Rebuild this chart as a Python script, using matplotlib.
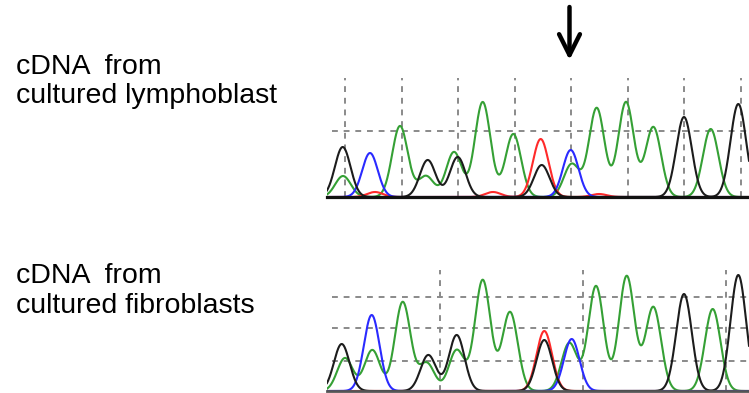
import numpy as np
import matplotlib
matplotlib.use("Agg")
import matplotlib.pyplot as plt
from matplotlib.patches import ArrowStyle, FancyArrowPatch

# ---------------- data (peak positions in scan units, heights) ----------------
labels_top = ["cDNA  from", "cultured lymphoblast"]
labels_bot = ["cDNA  from", "cultured fibroblasts"]

# Panel 1: cultured lymphoblast
p1_black_pos = [15.7, 100.7, 130.7, 214.7, 357.0, 411.3]
p1_black_h   = [50, 37, 40, 32, 80, 93]
p1_green_pos = [16.0, 73.0, 99.0, 127.0, 155.7, 186.3, 244.7, 269.7, 299.0, 326.3, 383.7]
p1_green_h   = [21, 71, 21, 45, 95, 63, 33, 89, 95, 70, 68]
p1_blue_pos  = [43.0, 243.7]
p1_blue_h    = [44, 47]
p1_red_pos   = [48.0, 166.0, 213.7, 272.0]
p1_red_h     = [5, 5, 58, 3]

# Panel 2: cultured fibroblasts
p2_black_pos = [14.7, 101.3, 129.7, 217.3, 357.0, 411.3]
p2_black_h   = [47, 36, 56, 51, 97, 116]
p2_green_pos = [18.0, 45.3, 75.7, 99.7, 129.7, 155.7, 183.0, 242.3, 269.0, 299.7, 326.3, 385.7]
p2_green_h   = [33, 41, 89, 28, 41, 111, 79, 48, 105, 115, 84, 82]
p2_blue_pos  = [44.7, 244.7]
p2_blue_h    = [76, 52]
p2_red_pos   = [217.3]
p2_red_h     = [60]

# grid positions
p1_vgrid = [18.0, 74.5, 131.0, 187.6, 244.1, 300.7, 357.2, 413.7]
p1_hgrid = [66]
p2_vgrid = [113.0, 256.3, 399.0]
p2_hgrid = [30, 63, 94]

SIGMA = 7.8
COLORS = {"black": "#1c1c1c", "green": "#35a035", "blue": "#2a2aff", "red": "#ff2a2a"}

W, H = 749, 393
fig = plt.figure(figsize=(W / 100, H / 100), dpi=100)
fig.patch.set_facecolor("white")

def trace(x, pos, hts):
    y = np.zeros_like(x)
    for p, h in zip(pos, hts):
        y += h * np.exp(-(x - p) ** 2 / (2 * SIGMA ** 2))
    return y

def panel(rect, ylim_top, vgrid, hgrid, series, base_color, base_lw):
    ax = fig.add_axes(rect)
    ax.set_xlim(0, 422)
    ax.set_ylim(0, ylim_top)
    ax.axis("off")
    for v in vgrid:
        ax.axvline(v, color="#8a8a8a", lw=1.4, ls=(0, (3, 3)), zorder=1)
    for hh in hgrid:
        ax.axhline(hh, xmin=0.012, color="#8a8a8a", lw=1.4, ls=(0, (3, 3)), zorder=1)
    x = np.linspace(0, 422, 3000)
    for col, pos, hts in series:
        ax.plot(x, trace(x, pos, hts), color=COLORS[col], lw=1.5, zorder=2)
    ax.axhline(0, color=base_color, lw=base_lw, zorder=3, clip_on=False)
    return ax

x0 = 327 / W
w = (W - 327) / W
panel([x0, (H - 197) / H, w, 119 / H], 119, p1_vgrid, p1_hgrid,
      [("green", p1_green_pos, p1_green_h),
       ("red", p1_red_pos, p1_red_h),
       ("blue", p1_blue_pos, p1_blue_h),
       ("black", p1_black_pos, p1_black_h)],
      "#111111", 2.3)
panel([x0, (H - 391) / H, w, 121 / H], 121, p2_vgrid, p2_hgrid,
      [("green", p2_green_pos, p2_green_h),
       ("red", p2_red_pos, p2_red_h),
       ("blue", p2_blue_pos, p2_blue_h),
       ("black", p2_black_pos, p2_black_h)],
      "#555555", 2.0)

# labels
font = dict(family="Liberation Sans", size=20.5, color="black", va="baseline", ha="left")
fig.text(16 / W, (H - 74.3) / H, labels_top[0], **font)
fig.text(16 / W, (H - 103.3) / H, labels_top[1], **font)
fig.text(16 / W, (H - 283.3) / H, labels_bot[0], **font)
fig.text(16 / W, (H - 312.7) / H, labels_bot[1], **font)

# arrow
fig.add_artist(FancyArrowPatch(
    (569.5, H - 7), (569.5, H - 60), transform=None,
    arrowstyle=ArrowStyle("->", head_length=1.5, head_width=0.75),
    mutation_scale=10, lw=3.2, color="black", shrinkA=0, shrinkB=0))

fig.savefig("out.png", dpi=100)
